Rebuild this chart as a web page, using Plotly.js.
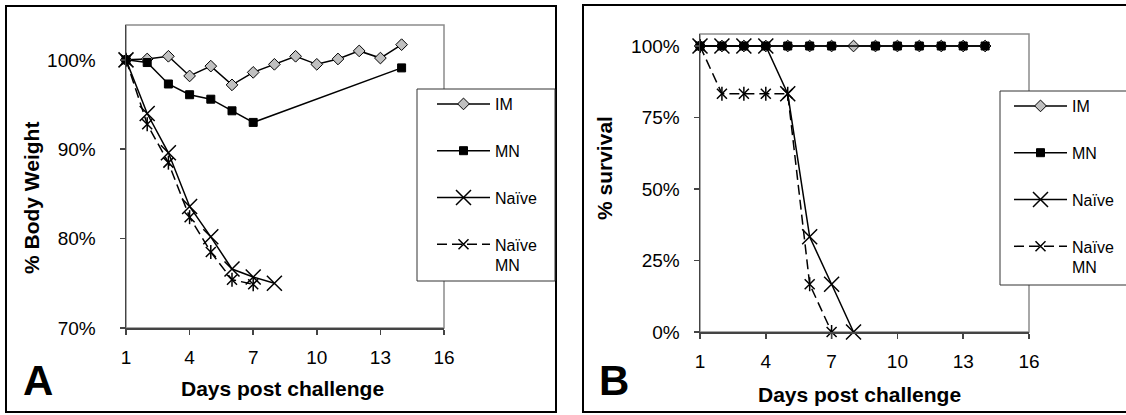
<!DOCTYPE html>
<html><head><meta charset="utf-8">
<script src="https://cdn.plot.ly/plotly-3.0.1.min.js"></script>
<style>html,body{margin:0;padding:0;background:#fff}#chart{width:1126px;height:415px}</style>
</head><body><div id="chart"></div>
<script>
// ---------- Panel A: % body weight ----------
const daysA_IM = [1,2,3,4,5,6,7,8,9,10,11,12,13,14];
const weightIM = [100,100.1,100.4,98.2,99.3,97.2,98.6,99.5,100.4,99.5,100.1,101.0,100.2,101.7];
const daysA_MN = [1,2,3,4,5,6,7,14];
const weightMN = [100,99.7,97.3,96.1,95.6,94.3,93.0,99.1];
const daysA_Naive = [1,2,3,4,5,6,7,8];
const weightNaive = [100,94.0,89.6,83.6,80.2,76.6,75.7,75.0];
const daysA_NaiveMN = [1,2,3,4,5,6,7];
const weightNaiveMN = [100,92.8,88.5,82.4,78.5,75.4,74.9];
// ---------- Panel B: % survival ----------
const daysB_IM = [1,2,3,4,5,6,7,8,9,10,11,12,13,14];
const survIM = [100,100,100,100,100,100,100,100,100,100,100,100,100,100];
const daysB_MN = [1,2,3,4,5,6,7,9,10,11,12,13,14];
const survMN = [100,100,100,100,100,100,100,100,100,100,100,100,100];
const daysB_Naive = [1,2,3,4,5,6,7,8];
const survNaive = [100,100,100,100,83.3,33.3,16.7,0];
const daysB_NaiveMN = [1,2,3,4,5,6,7];
const survNaiveMN = [100,83.3,83.3,83.3,83.3,16.7,0];
// ---------- labels ----------
const seriesNames = ['IM','MN','Naïve','Naïve<br>MN'];
const xTicks = [1,4,7,10,13,16];
const yTicksA = [70,80,90,100];
const yTicksB = [0,25,50,75,100];
const yTickTextA = ['70%','80%','90%','100%'];
const yTickTextB = ['0%','25%','50%','75%','100%'];
const xTitle = 'Days post challenge';
const yTitleA = '% Body Weight';
const yTitleB = '% survival';

const W = 1126, H = 415;
const px = v => v / W, py = v => 1 - v / H;
const FONT = 'Liberation Sans, Arial, sans-serif';

function mk(x, y, xa, ya, lg, idx, extra) {
  const base = {x: x, y: y, xaxis: xa, yaxis: ya, legend: lg, type: 'scatter',
    mode: 'lines+markers', cliponaxis: false, name: seriesNames[idx],
    legendgroup: lg + 'g' + idx, line: {color: '#000', width: 1.5}};
  return Object.assign(base, extra);
}
const imM = {symbol: 'diamond', size: 9, color: '#c0c0c0', line: {color: '#000', width: 1}};
const mnM = {symbol: 'square', size: 8, color: '#000', line: {color: '#000', width: 1}};
const nvM = {symbol: 'x-thin-open', size: 15, color: '#000', line: {color: '#000', width: 1.5}};
const nmM = {symbol: 'x-thin-open', size: 10, color: '#000', line: {color: '#000', width: 1.5}};
const nmV = {symbol: 'line-ns-open', size: 10, color: '#000', line: {color: '#000', width: 1.5}};
const dashL = {color: '#000', width: 1.5, dash: '10px,5px'};

const traces = [
  mk(daysA_IM, weightIM, 'x', 'y', 'legend', 0, {marker: imM}),
  mk(daysA_MN, weightMN, 'x', 'y', 'legend', 1, {marker: mnM}),
  mk(daysA_Naive, weightNaive, 'x', 'y', 'legend', 2, {marker: nvM}),
  mk(daysA_NaiveMN, weightNaiveMN, 'x', 'y', 'legend', 3, {marker: nmM, line: dashL}),
  mk(daysA_NaiveMN, weightNaiveMN, 'x', 'y', 'legend', 3, {mode: 'markers', marker: nmV, showlegend: false}),
  mk(daysB_IM, survIM, 'x2', 'y2', 'legend2', 0, {marker: imM}),
  mk(daysB_MN, survMN, 'x2', 'y2', 'legend2', 1, {marker: mnM}),
  mk(daysB_Naive, survNaive, 'x2', 'y2', 'legend2', 2, {marker: nvM}),
  mk(daysB_NaiveMN, survNaiveMN, 'x2', 'y2', 'legend2', 3, {marker: nmM, line: dashL}),
  mk(daysB_NaiveMN, survNaiveMN, 'x2', 'y2', 'legend2', 3, {mode: 'markers', marker: nmV, showlegend: false})
];

const axBase = {showgrid: false, zeroline: false, showline: true, linecolor: '#444', linewidth: 1.5,
  ticks: 'outside', ticklen: 5, tickwidth: 1.5, tickcolor: '#444', fixedrange: true, tickmode: 'array',
  tickfont: {family: FONT, size: 19, color: '#000'}};

const legBase = {bgcolor: 'rgba(0,0,0,0)', borderwidth: 0, itemwidth: 53, traceorder: 'grouped',
  tracegroupgap: 23, valign: 'top', xanchor: 'left', yanchor: 'top',
  font: {family: FONT, size: 16, color: '#000'}};

const layout = {
  width: W, height: H, margin: {l: 0, r: 0, t: 0, b: 0},
  paper_bgcolor: '#fff', plot_bgcolor: '#fff', showlegend: true,
  font: {family: FONT, color: '#000'},
  xaxis: Object.assign({}, axBase, {domain: [px(126), px(444)], range: [1, 16], tickvals: xTicks, ticktext: xTicks.map(String), anchor: 'y', ticklabelstandoff: 7}),
  yaxis: Object.assign({}, axBase, {domain: [py(328), py(25)], range: [70, 103.9], tickvals: yTicksA, ticktext: yTickTextA, anchor: 'x', ticklabelstandoff: 20}),
  xaxis2: Object.assign({}, axBase, {domain: [px(700), px(1029)], range: [1, 16], tickvals: xTicks, ticktext: xTicks.map(String), anchor: 'y2', ticklabelstandoff: 7}),
  yaxis2: Object.assign({}, axBase, {domain: [py(332), py(34)], range: [0, 104.2], tickvals: yTicksB, ticktext: yTickTextB, anchor: 'x2', ticklabelstandoff: 10}),
  legend: Object.assign({}, legBase, {x: px(432), y: py(87)}),
  legend2: Object.assign({}, legBase, {x: px(1009), y: py(89)}),
  shapes: [
    {type: 'rect', xref: 'paper', yref: 'paper', x0: px(6), x1: px(556), y0: py(412), y1: py(6), line: {color: '#000', width: 2}},
    {type: 'rect', xref: 'paper', yref: 'paper', x0: px(583), x1: px(1130), y0: py(412), y1: py(5), line: {color: '#000', width: 2}},
    {type: 'rect', xref: 'x domain', yref: 'y domain', x0: 0, x1: 1, y0: 0, y1: 1, layer: 'below', line: {color: '#8c8c8c', width: 1.5}},
    {type: 'rect', xref: 'x2 domain', yref: 'y2 domain', x0: 0, x1: 1, y0: 0, y1: 1, layer: 'below', line: {color: '#8c8c8c', width: 1.5}},
    {type: 'rect', xref: 'paper', yref: 'paper', x0: px(417), x1: px(555), y0: py(281), y1: py(89), layer: 'above', fillcolor: '#fff', line: {color: '#333', width: 1}},
    {type: 'rect', xref: 'paper', yref: 'paper', x0: px(1000), x1: px(1135), y0: py(285), y1: py(91), layer: 'above', fillcolor: '#fff', line: {color: '#333', width: 1}}
  ],
  annotations: [
    {text: xTitle, xref: 'paper', yref: 'paper', x: px(283), y: py(388), xanchor: 'center', yanchor: 'middle', showarrow: false, font: {family: FONT, size: 21, color: '#000', weight: 'bold'}},
    {text: yTitleA, xref: 'paper', yref: 'paper', x: px(31), y: py(198), xanchor: 'center', yanchor: 'middle', textangle: -90, showarrow: false, font: {family: FONT, size: 21, color: '#000', weight: 'bold'}},
    {text: 'A', xref: 'paper', yref: 'paper', x: px(38), y: py(380), xanchor: 'center', yanchor: 'middle', showarrow: false, font: {family: FONT, size: 42, color: '#000', weight: 'bold'}},
    {text: xTitle, xref: 'paper', yref: 'paper', x: px(860), y: py(394), xanchor: 'center', yanchor: 'middle', showarrow: false, font: {family: FONT, size: 21, color: '#000', weight: 'bold'}},
    {text: yTitleB, xref: 'paper', yref: 'paper', x: px(604), y: py(168), xanchor: 'center', yanchor: 'middle', textangle: -90, showarrow: false, font: {family: FONT, size: 21, color: '#000', weight: 'bold'}},
    {text: 'B', xref: 'paper', yref: 'paper', x: px(614), y: py(380), xanchor: 'center', yanchor: 'middle', showarrow: false, font: {family: FONT, size: 42, color: '#000', weight: 'bold'}}
  ]
};

Plotly.newPlot('chart', traces, layout, {displayModeBar: false, staticPlot: true});
</script>
</body></html>
